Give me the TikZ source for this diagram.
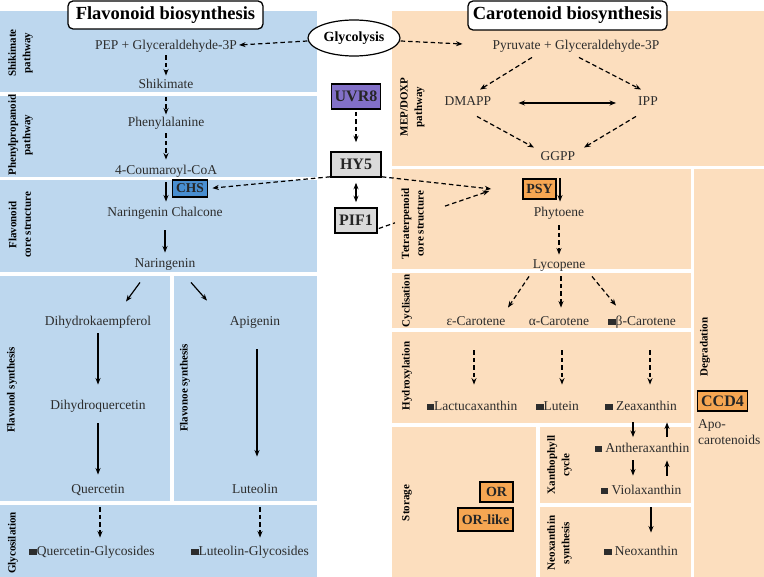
\documentclass[tikz,border=0pt]{standalone}
\usepackage{fontspec}
\setmainfont{Liberation Serif}
\usetikzlibrary{arrows.meta,shapes.geometric}
\definecolor{fblue}{RGB}{189,215,238}
\definecolor{corange}{RGB}{252,222,190}
\definecolor{boxorange}{RGB}{246,166,82}
\definecolor{chsblue}{RGB}{72,142,208}
\definecolor{uvrpurple}{RGB}{130,112,200}
\definecolor{hygray}{RGB}{218,218,218}
\definecolor{txt}{RGB}{45,45,45}
\newcommand{\sqmark}{\rule{7.5pt}{6.5pt}}
\tikzset{
  comp/.style={font=\fontsize{13.5}{16}\selectfont, text=txt, inner sep=1pt, text height=9.5pt, text depth=3pt},
  plain/.style={font=\fontsize{13.5}{15.5}\selectfont, text=txt, inner sep=1pt},
  sect/.style={rotate=90, align=center, font=\fontsize{11}{14.5}\selectfont\bfseries, text=black, inner sep=0pt},
  titlebox/.style={draw, rounded corners=5pt, line width=1.3pt, fill=white, font=\fontsize{18.5}{22}\selectfont\bfseries, text=black, inner sep=0pt},
  gene/.style={draw, line width=1.6pt, font=\fontsize{14}{16}\selectfont\bfseries, inner sep=0pt, text=black!85},
  darr/.style={-{Stealth[length=6.5pt,width=5pt]}, dash pattern=on 4.5pt off 3pt, line width=1.2pt, draw=black},
  dline/.style={dash pattern=on 4.5pt off 3pt, line width=1.2pt, draw=black},
  sarr/.style={-{Stealth[length=6.5pt,width=5pt]}, line width=1.2pt, draw=black},
  sdarr/.style={{Stealth[length=6.5pt,width=5pt]}-{Stealth[length=6.5pt,width=5pt]}, line width=1.2pt, draw=black},
}
\begin{document}
\begin{tikzpicture}[x=1pt,y=-1pt]
\useasboundingbox (0,0) rectangle (764,577);
\fill[white] (0,0) rectangle (764,577);
% ---------- blue panels ----------
\fill[fblue] (0,11) rectangle (317,92);
\fill[fblue] (0,96) rectangle (317,177);
\fill[fblue] (0,180) rectangle (317,272);
\fill[fblue] (0,276) rectangle (170,501);
\fill[fblue] (174,276) rectangle (317,501);
\fill[fblue] (0,505) rectangle (317,577);
% ---------- orange panels ----------
\fill[corange] (392,11) rectangle (764,166);
\fill[corange] (392,169) rectangle (691,269);
\fill[corange] (392,273) rectangle (691,328);
\fill[corange] (392,332) rectangle (691,423);
\fill[corange] (392,427) rectangle (536,577);
\fill[corange] (540,427) rectangle (691,503);
\fill[corange] (540,507) rectangle (691,577);
\fill[corange] (694,169) rectangle (764,577);
% ---------- titles ----------
\node[titlebox, minimum width=195pt, minimum height=28pt] (tf) at (165.5,15) {Flavonoid biosynthesis};
\node[titlebox, minimum width=199pt, minimum height=29pt] (tc) at (567.5,15.5) {Carotenoid biosynthesis};
\node[ellipse, draw, line width=1.2pt, fill=white, minimum width=92pt, minimum height=36pt, inner sep=0pt, font=\fontsize{14}{16}\selectfont\bfseries, text=black] (gly) at (354,38) {Glycolysis};
% ---------- section labels ----------
\node[sect] (s1) at (20.5,53) {Shikimate\\pathway};
\node[sect] (s2) at (20.5,135) {Phenylpropanoid\\pathway};
\node[sect] (s3) at (20,225) {Flavonoid\\core structure};
\node[sect] (s4) at (12,390) {Flavonol synthesis};
\node[sect] (s5) at (185,388) {Flavonoe synthesis};
\node[sect] (s6) at (13,543) {Glycosilation};
\node[sect] (s7) at (412.5,107) {MEP/DOXP\\pathway};
\node[sect] (s8) at (412.5,224) {Tetraterpenoid\\core structure};
\node[sect] (s9) at (407,301) {Cyclisation};
\node[sect] (s10) at (407,376) {Hydroxylation};
\node[sect] (s11) at (407,503) {Storage};
\node[sect] (s12) at (559.5,465) {Xanthophyll\\cycle};
\node[sect] (s13) at (559.5,543) {Neoxanthin\\synthesis};
\node[sect] (s14) at (705,347) {Degradation};
% ---------- flavonoid compounds ----------
\node[comp] (pep) at (166,46) {PEP + Glyceraldehyde-3P};
\node[comp] (shik) at (166,85) {Shikimate};
\node[comp] (phe) at (166,123) {Phenylalanine};
\node[comp] (cou) at (166,171) {4-Coumaroyl-CoA};
\node[comp] (nc) at (165,213) {Naringenin Chalcone};
\node[comp] (nar) at (165,264) {Naringenin};
\node[comp] (dhk) at (98,322) {Dihydrokaempferol};
\node[comp] (dhq) at (98,406) {Dihydroquercetin};
\node[comp] (que) at (98,490) {Quercetin};
\node[comp] (api) at (255,322) {Apigenin};
\node[comp] (lut) at (255,490) {Luteolin};
\node[comp] (qg) at (92,552) {\sqmark Quercetin-Glycosides};
\node[comp] (lg) at (250,552) {\sqmark Luteolin-Glycosides};
% ---------- carotenoid compounds ----------
\node[comp] (pyr) at (576,46) {Pyruvate + Glyceraldehyde-3P};
\node[comp] (dmapp) at (468,102) {DMAPP};
\node[comp] (ipp) at (648,102) {IPP};
\node[comp] (ggpp) at (558,157) {GGPP};
\node[comp] (phy) at (559,213) {Phytoene};
\node[comp] (lyc) at (559,265) {Lycopene};
\node[comp] (eps) at (476,322) {ε-Carotene};
\node[comp] (alp) at (559,322) {α-Carotene};
\node[comp] (bet) at (642,322) {\sqmark β-Carotene};
\node[comp] (lac) at (472,407) {\sqmark Lactucaxanthin};
\node[comp] (lutn) at (557.5,407) {\sqmark Lutein};
\node[comp] (zea) at (641,407) {\sqmark{} Zeaxanthin};
\node[comp] (anth) at (642,449) {\sqmark{} Antheraxanthin};
\node[comp] (viol) at (641,491) {\sqmark{} Violaxanthin};
\node[comp] (neo) at (641,552) {\sqmark{} Neoxanthin};
\node[plain, align=left, anchor=west] (apo) at (697,432) {Apo-\\carotenoids};
% ---------- regulators / enzymes ----------
\node[gene, fill=uvrpurple, minimum width=49pt, minimum height=25pt, font=\fontsize{16}{18}\selectfont\bfseries] (uvr) at (356,96.5) {UVR8};
\node[gene, fill=hygray, minimum width=50pt, minimum height=25pt, font=\fontsize{16}{18}\selectfont\bfseries] (hy5) at (356,164.5) {HY5};
\node[gene, fill=hygray, minimum width=42pt, minimum height=25pt, font=\fontsize{16}{18}\selectfont\bfseries] (pif) at (356,220.5) {PIF1};
\node[gene, fill=chsblue, minimum width=35pt, minimum height=17pt, font=\fontsize{13.5}{16}\selectfont\bfseries] (chs) at (190,188.5) {CHS};
\node[gene, fill=boxorange, minimum width=33pt, minimum height=20pt] (psy) at (539.5,189) {PSY};
\node[gene, fill=boxorange, minimum width=33pt, minimum height=20pt] (or) at (496.5,492) {OR};
\node[gene, fill=boxorange, minimum width=55pt, minimum height=23pt] (orl) at (485.5,519.5) {OR-like};
\node[gene, fill=boxorange, minimum width=50pt, minimum height=20pt, font=\fontsize{16}{18}\selectfont\bfseries] (ccd) at (722.5,401) {CCD4};
% ---------- flavonoid arrows ----------
\draw[darr] ([shift={(0,3)}]gly.west) -- ([shift={(1,-1)}]pep.east);
\draw[darr, shorten <=2pt, shorten >=2pt] (pep) -- (shik);
\draw[darr, shorten <=4.5pt, shorten >=1pt] (shik) -- (phe);
\draw[darr, shorten <=3pt, shorten >=4pt] (phe) -- (cou);
\draw[sarr, shorten <=4pt, shorten >=4pt] (cou.south) -- (cou.south |- nc.north);
\draw[sarr, shorten <=10pt, shorten >=4pt] (nc.south -| nar.north) -- (nar.north);
\draw[sarr] ([shift={(-25,11)}]nar.south) -- ([shift={(28,-13)}]dhk.north);
\draw[sarr] ([shift={(26,11)}]nar.south) -- ([shift={(-48,-14)}]api.north);
\draw[sarr, shorten <=4pt, shorten >=14pt] (dhk) -- (dhq);
\draw[sarr, shorten <=10pt, shorten >=8pt] (dhq) -- (que);
\draw[sarr] ([shift={(2,20)}]api.south) -- ([shift={(2,-26)}]lut.north);
\draw[darr] ([shift={(2,10)}]que.south) -- ([shift={(8,-7)}]qg.north);
\draw[darr] ([shift={(5,10)}]lut.south) -- ([shift={(10,-7)}]lg.north);
% ---------- regulator arrows ----------
\draw[darr, shorten <=2pt, shorten >=9pt] (uvr) -- (hy5);
\draw[sdarr, shorten <=5pt, shorten >=5pt] (hy5.south) -- (pif.north);
\draw[darr, shorten >=4pt] ([shift={(0,-1)}]hy5.south west) -- (chs.east);
\coordinate (psyin) at ([shift={(-31,0)}]psy.west);
\coordinate (pa) at (395,222.8);
\coordinate (pb) at (445,206.1);
\draw[darr] ([shift={(0,-1)}]hy5.south east) -- (psyin);
\draw[dline] ([shift={(1,8)}]pif.east) -- (pa);
\draw[darr] (pb) -- ([shift={(-2,2)}]psyin);
% ---------- carotenoid arrows ----------
\draw[darr] ([shift={(0,3)}]gly.east) -- ([shift={(-29,-2)}]pyr.west);
\draw[darr] ([shift={(-44,4)}]pyr.south) -- ([shift={(12,-5)}]dmapp.north);
\draw[darr] ([shift={(3,4)}]pyr.south) -- ([shift={(-7,-5)}]ipp.north);
\draw[darr] ([shift={(9,7)}]dmapp.south) -- ([shift={(-24,-2)}]ggpp.north);
\draw[darr] ([shift={(-12,7)}]ipp.south) -- ([shift={(26,-2)}]ggpp.north);
\draw[sdarr, shorten <=26pt, shorten >=21pt] ([shift={(0,1)}]dmapp.east) -- ([shift={(0,1)}]ipp.west);
\draw[sarr] ([shift={(2,14)}]ggpp.south) -- ([shift={(1,-4)}]phy.north);
\draw[darr, shorten <=5pt, shorten >=3pt] (phy) -- (lyc);
\draw[darr] ([shift={(-30,4)}]lyc.south) -- ([shift={(32,-7)}]eps.north);
\draw[darr] ([shift={(2,4)}]lyc.south) -- ([shift={(2,-7)}]alp.north);
\draw[darr] ([shift={(33,4)}]lyc.south) -- ([shift={(-26,-9)}]bet.north);
\draw[darr] ([shift={(-2,21)}]eps.south) -- ([shift={(2,-15)}]lac.north);
\draw[darr] ([shift={(3,21)}]alp.south) -- ([shift={(4.5,-15)}]lutn.north);
\draw[darr] ([shift={(8,21)}]bet.south) -- ([shift={(9,-15)}]zea.north);
\draw[sarr] ([shift={(-8,8)}]zea.south) -- ([shift={(-9,-4.5)}]anth.north);
\draw[sarr] ([shift={(25,-4.5)}]anth.north) -- ([shift={(26,8)}]zea.south);
\draw[sarr] ([shift={(-9,4)}]anth.south) -- ([shift={(-8,-8)}]viol.north);
\draw[sarr] ([shift={(26,-8)}]viol.north) -- ([shift={(25,4)}]anth.south);
\draw[sarr] ([shift={(10,9)}]viol.south) -- ([shift={(10,-12)}]neo.north);
\end{tikzpicture}
\end{document}
